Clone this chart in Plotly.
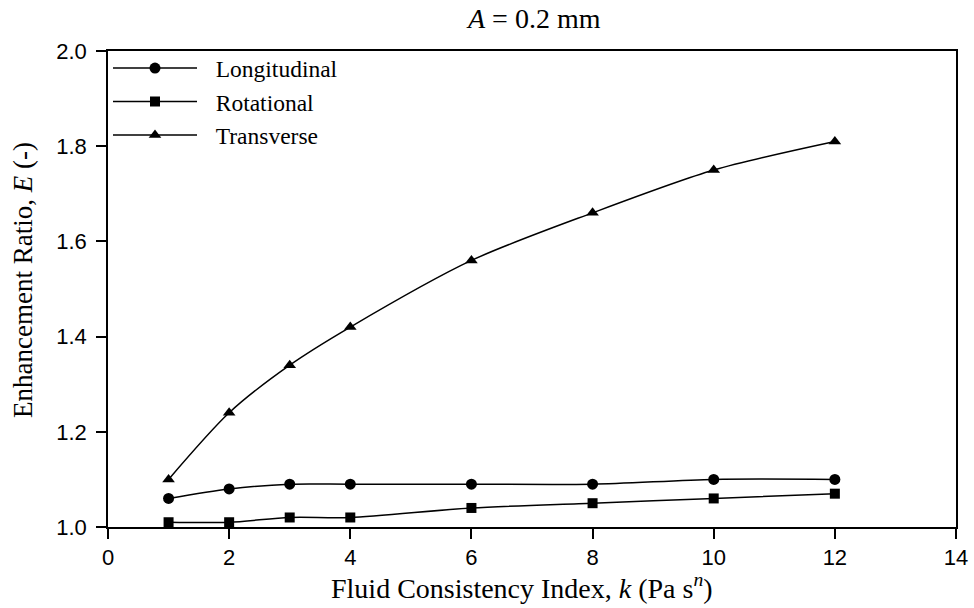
import plotly.graph_objects as go

# Fluid consistency index k (Pa s^n)
k_values = [1, 2, 3, 4, 6, 8, 10, 12]

# Enhancement ratio E for each vibration mode
longitudinal = [1.06, 1.08, 1.09, 1.09, 1.09, 1.09, 1.10, 1.10]
rotational = [1.01, 1.01, 1.02, 1.02, 1.04, 1.05, 1.06, 1.07]
transverse = [1.10, 1.24, 1.34, 1.42, 1.56, 1.66, 1.75, 1.81]

x_ticks = [0, 2, 4, 6, 8, 10, 12, 14]
y_ticks = [1.0, 1.2, 1.4, 1.6, 1.8, 2.0]

SERIF = "Liberation Serif, Times New Roman, serif"
SANS = "Liberation Sans, Arial, sans-serif"
GAP = "\u00a0\u00a0\u200a"  # spacing between legend symbol and label

series = [
    ("Longitudinal", longitudinal, "circle", 11),
    ("Rotational", rotational, "square", 10),
    ("Transverse", transverse, "triangle-up", 11),
]

fig = go.Figure()
for name, vals, symbol, size in series:
    fig.add_trace(go.Scatter(
        x=k_values, y=vals, name=GAP + name, mode="lines+markers",
        line=dict(color="black", width=1.5, shape="spline", smoothing=0.8),
        marker=dict(symbol=symbol, size=size, color="black"),
    ))

axis_common = dict(
    showline=True, linecolor="black", linewidth=1.5, mirror=True,
    ticks="outside", ticklen=10, tickwidth=1.5, tickcolor="black",
    showgrid=False, zeroline=False, automargin=False,
    tickfont=dict(family=SANS, size=22, color="black"),
)

fig.update_layout(
    width=974, height=608,
    margin=dict(l=108, r=18, t=51, b=81),
    paper_bgcolor="white", plot_bgcolor="white",
    title=dict(
        text="<i>A</i> = 0.2 mm", x=0.5485, xanchor="center", y=0.97, yanchor="middle",
        font=dict(family=SERIF, size=28, color="black"),
    ),
    xaxis=dict(range=[0, 14], tickvals=x_ticks, ticklabelstandoff=0, **axis_common),
    yaxis=dict(range=[1.0, 2.0], tickvals=y_ticks, tickformat=".1f",
               ticklabelstandoff=5, **axis_common),
    legend=dict(
        x=0.0, y=1.01, xanchor="left", yanchor="top",
        font=dict(family=SERIF, size=23.5, color="black"),
        bgcolor="rgba(0,0,0,0)", borderwidth=0,
        itemwidth=84, tracegroupgap=0,
    ),
    showlegend=True,
)

# Axis titles as paper-anchored annotations
fig.add_annotation(
    text="Fluid Consistency Index, <i>k</i> (Pa s<sup><i>n</i></sup>)",
    xref="paper", yref="paper", x=0.488, y=-0.126,
    xanchor="center", yanchor="middle", showarrow=False,
    font=dict(family=SERIF, size=28, color="black"),
)
fig.add_annotation(
    text="Enhancement Ratio, <i>E</i> (-)",
    xref="paper", yref="paper", x=-0.1002, y=0.519, textangle=-90,
    xanchor="center", yanchor="middle", showarrow=False,
    font=dict(family=SERIF, size=27, color="black"),
)

fig.write_html("out.html")
